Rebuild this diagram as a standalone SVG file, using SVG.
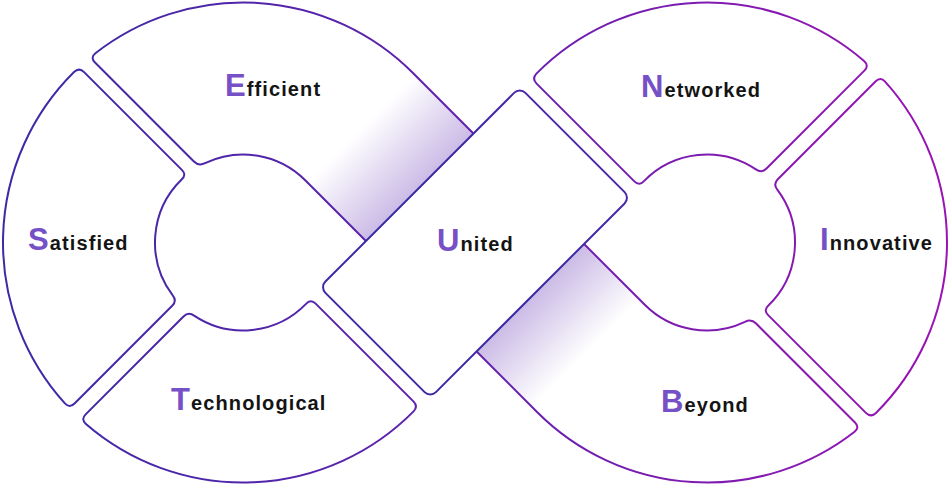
<svg xmlns="http://www.w3.org/2000/svg" width="950" height="485" viewBox="0 0 950 485">
  <defs>
    <linearGradient id="strokeG" gradientUnits="userSpaceOnUse" x1="0" y1="0" x2="950" y2="0">
      <stop offset="0" stop-color="#3b2aa6"/>
      <stop offset="0.5" stop-color="#6420ae"/>
      <stop offset="1" stop-color="#9a14b4"/>
    </linearGradient>
    <linearGradient id="gE" gradientUnits="userSpaceOnUse" x1="245" y1="245" x2="303.5" y2="303.5">
      <stop offset="0" stop-color="#ffffff"/>
      <stop offset="1" stop-color="#cbbbe6"/>
    </linearGradient>
    <linearGradient id="gB" gradientUnits="userSpaceOnUse" x1="470" y1="470" x2="414" y2="414">
      <stop offset="0" stop-color="#ffffff"/>
      <stop offset="1" stop-color="#cbbbe6"/>
    </linearGradient>
  </defs>
  <style>
    .seg { fill: #ffffff; stroke: url(#strokeG); stroke-width: 2; stroke-linejoin: round; }
    .lbl { font-family: "Liberation Sans", Arial, sans-serif; font-weight: 700; font-size: 20px; fill: #141414; letter-spacing: 1.1px; }
    .cap { font-size: 31px; fill: #7650c6; }
  </style>
  <rect width="950" height="485" fill="#ffffff"/>
  <g id="connectors"/>
  <g id="efficient">
    <path class="seg" style="fill:url(#gE)" d="M 193.92 161.42 L 95.0 62.5 Q 90.05 57.55 95.42 53.24 A 240 240 0 0 1 412.71 72.79 L 479.88 139.97 L 372.40 247.45 L 305.23 180.27 A 88 88 0 0 0 205.05 163.10 Q 198.87 166.37 193.92 161.42 Z"/>
    <text class="lbl" x="225" y="96"><tspan class="cap">E</tspan>fficient</text>
  </g>
  <g id="beyond">
    <path class="seg" style="fill:url(#gB)" d="M 756.08 323.58 L 855.0 422.5 Q 859.95 427.45 854.58 431.76 A 240 240 0 0 1 537.29 412.21 L 470.12 345.03 L 577.60 237.55 L 644.77 304.73 A 88 88 0 0 0 744.95 321.90 Q 751.13 318.63 756.08 323.58 Z"/>
    <text class="lbl" x="661" y="412"><tspan class="cap">B</tspan>eyond</text>
  </g>
  <g id="satisfied">
    <path class="seg" d="M 84.09 72.09 Q 79.14 67.14 74.02 72.08 A 240 240 0 0 0 64.90 403.37 Q 69.59 408.42 74.54 403.47 L 172.19 305.81 Q 177.14 300.86 172.71 295.44 A 88 88 0 0 1 181.62 179.45 Q 186.79 174.79 181.84 169.84 Z"/>
    <text class="lbl" x="28" y="250"><tspan class="cap">S</tspan>atisfied</text>
  </g>
  <g id="technological">
    <path class="seg" d="M 85.65 414.35 Q 80.70 419.30 85.92 423.96 A 240 240 0 0 0 413.57 411.34 Q 418.36 406.36 413.41 401.41 L 315.66 303.66 Q 310.71 298.71 306.03 303.92 A 88 88 0 0 1 194.11 315.67 Q 188.45 311.55 183.50 316.50 Z"/>
    <text class="lbl" x="171" y="410"><tspan class="cap">T</tspan>echnological</text>
  </g>
  <g id="networked">
    <path class="seg" d="M 864.35 70.65 Q 869.30 65.70 864.08 61.04 A 240 240 0 0 0 536.43 73.66 Q 531.64 78.64 536.59 83.59 L 634.34 181.34 Q 639.29 186.29 643.97 181.08 A 88 88 0 0 1 755.89 169.33 Q 761.55 173.45 766.50 168.50 Z"/>
    <text class="lbl" x="641" y="97"><tspan class="cap">N</tspan>etworked</text>
  </g>
  <g id="innovative">
    <path class="seg" d="M 865.91 412.91 Q 870.86 417.86 875.98 412.92 A 240 240 0 0 0 885.10 81.63 Q 880.41 76.58 875.46 81.53 L 777.81 179.19 Q 772.86 184.14 777.29 189.56 A 88 88 0 0 1 768.38 305.55 Q 763.21 310.21 768.16 315.16 Z"/>
    <text class="lbl" x="820" y="250"><tspan class="cap">I</tspan>nnovative</text>
  </g>
  <g id="united">
    <rect class="seg" x="-141.42" y="-78.15" width="282.84" height="156.3" rx="8" transform="translate(475 242.5) rotate(-45)"/>
    <text class="lbl" x="437" y="251"><tspan class="cap">U</tspan>nited</text>
  </g>
</svg>
